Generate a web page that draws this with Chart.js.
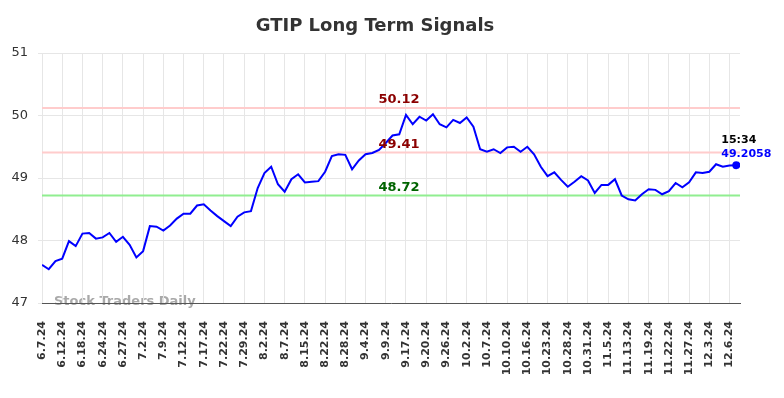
<!DOCTYPE html>
<html>
<head>
<meta charset="utf-8">
<title>GTIP Long Term Signals</title>
<script src="https://cdn.jsdelivr.net/npm/chart.js@4.4.1/dist/chart.umd.min.js"></script>
<style>
  body { margin: 0; background: #fff; }
  canvas { display: block; }
</style>
</head>
<body>
<canvas id="signalChart" width="784" height="398"></canvas>
<script>
// one tick label every 3 sessions
const tickLabels = ['6.7.24', '6.12.24', '6.18.24', '6.24.24', '6.27.24', '7.2.24', '7.9.24', '7.12.24',
  '7.17.24', '7.22.24', '7.29.24', '8.2.24', '8.7.24', '8.15.24', '8.22.24', '8.28.24', '9.4.24', '9.9.24',
  '9.17.24', '9.20.24', '9.26.24', '10.2.24', '10.7.24', '10.10.24', '10.16.24', '10.23.24', '10.28.24',
  '10.31.24', '11.5.24', '11.13.24', '11.19.24', '11.22.24', '11.27.24', '12.3.24', '12.6.24'];
const tickStep = 3;

const closes = [
  47.61, 47.54, 47.67, 47.71, 47.99, 47.91, 48.11, 48.12, 48.03, 48.05,
  48.12, 47.98, 48.06, 47.93, 47.73, 47.83, 48.23, 48.22, 48.16, 48.24,
  48.35, 48.43, 48.43, 48.56, 48.58, 48.48, 48.39, 48.31, 48.23, 48.38,
  48.45, 48.47, 48.84, 49.08, 49.18, 48.90, 48.78, 48.98, 49.06, 48.93,
  48.94, 48.95, 49.10, 49.35, 49.38, 49.37, 49.14, 49.28, 49.38, 49.40,
  49.45, 49.56, 49.68, 49.70, 50.01, 49.86, 49.98, 49.92, 50.02, 49.86,
  49.81, 49.93, 49.88, 49.97, 49.82, 49.46, 49.42, 49.46, 49.40, 49.49,
  49.50, 49.42, 49.50, 49.38, 49.18, 49.03, 49.09, 48.97, 48.86, 48.94,
  49.03, 48.96, 48.76, 48.89, 48.89, 48.98, 48.72, 48.66, 48.64, 48.74,
  48.82, 48.81, 48.74, 48.79, 48.92, 48.85, 48.93, 49.09, 49.08, 49.10,
  49.22, 49.18, 49.20, 49.2058
];

const levels = [50.12, 49.41, 48.72];
const levelLineColors = ['#ffcccc', '#ffcccc', '#90ee90'];
const levelTextColors = ['#8b0000', '#8b0000', '#006400'];
const lastTime = '15:34';

Chart.defaults.font.family = "'DejaVu Sans', sans-serif";

const overlays = {
  id: 'overlays',
  beforeDraw(chart) {
    const ctx = chart.ctx;
    ctx.save();
    ctx.font = 'bold 13px DejaVu Sans';
    ctx.fillStyle = 'rgba(140,140,140,0.75)';
    ctx.textAlign = 'left';
    ctx.textBaseline = 'middle';
    ctx.fillText('Stock Traders Daily', chart.chartArea.left + 12, chart.chartArea.bottom - 1);
    ctx.restore();
  },
  beforeDatasetsDraw(chart) {
    const { ctx, chartArea, scales } = chart;
    ctx.save();
    ctx.lineWidth = 2;
    levels.forEach((lv, k) => {
      const y = scales.y.getPixelForValue(lv);
      ctx.strokeStyle = levelLineColors[k];
      ctx.beginPath();
      ctx.moveTo(chartArea.left, y);
      ctx.lineTo(chartArea.right, y);
      ctx.stroke();
    });
    ctx.restore();
  },
  afterDatasetsDraw(chart) {
    const { ctx, chartArea, scales } = chart;
    ctx.save();
    ctx.font = 'bold 13px DejaVu Sans';
    ctx.textAlign = 'center';
    ctx.textBaseline = 'middle';
    const cx = (chartArea.left + chartArea.right) / 2 + 8;
    levels.forEach((lv, k) => {
      ctx.fillStyle = levelTextColors[k];
      ctx.fillText(lv.toFixed(2), cx, scales.y.getPixelForValue(lv) - 8);
    });

    const last = closes.length - 1;
    const px = scales.x.getPixelForValue(last);
    const py = scales.y.getPixelForValue(closes[last]);
    ctx.font = 'bold 11px DejaVu Sans';
    ctx.textAlign = 'left';
    ctx.fillStyle = '#000';
    ctx.fillText(lastTime, px - 15, py - 25);
    ctx.fillStyle = '#0000ff';
    ctx.fillText(closes[last].toString(), px - 15, py - 11);

    // title
    ctx.font = 'bold 18px DejaVu Sans';
    ctx.textAlign = 'center';
    ctx.fillStyle = '#333';
    ctx.fillText('GTIP Long Term Signals', 375, 26);
    ctx.restore();
  }
};

new Chart(document.getElementById('signalChart').getContext('2d'), {
  type: 'line',
  data: {
    datasets: [{
      data: closes.map((v, i) => ({ x: i, y: v })),
      borderColor: '#0000ff',
      borderWidth: 2,
      tension: 0,
      pointRadius: ctx => ctx.dataIndex === closes.length - 1 ? 4 : 0,
      pointBackgroundColor: '#0000ff',
      pointBorderWidth: 0
    }]
  },
  options: {
    responsive: false,
    animation: false,
    layout: { padding: { top: 53, right: 44, left: 0, bottom: 0 } },
    plugins: { legend: { display: false }, tooltip: { enabled: false } },
    scales: {
      x: {
        type: 'linear',
        min: 0,
        max: 103.55,
        afterBuildTicks: scale => {
          scale.ticks = tickLabels.map((_, k) => ({ value: k * tickStep }));
        },
        afterFit: scale => { scale.height = 95; },
        ticks: {
          autoSkip: false,
          maxRotation: 90,
          minRotation: 90,
          padding: 18,
          color: '#333',
          font: { size: 11, weight: 'bold' },
          callback: value => tickLabels[Math.round(value / tickStep)]
        },
        grid: { color: '#e6e6e6', drawTicks: false },
        border: { color: '#555', width: 1 }
      },
      y: {
        min: 47,
        max: 51,
        afterFit: scale => { scale.width = 42; },
        ticks: { stepSize: 1, color: '#333', font: { size: 13 }, padding: 10 },
        grid: { color: '#e6e6e6', tickLength: 4 },
        border: { display: false }
      }
    }
  },
  plugins: [overlays]
});
</script>
</body>
</html>
